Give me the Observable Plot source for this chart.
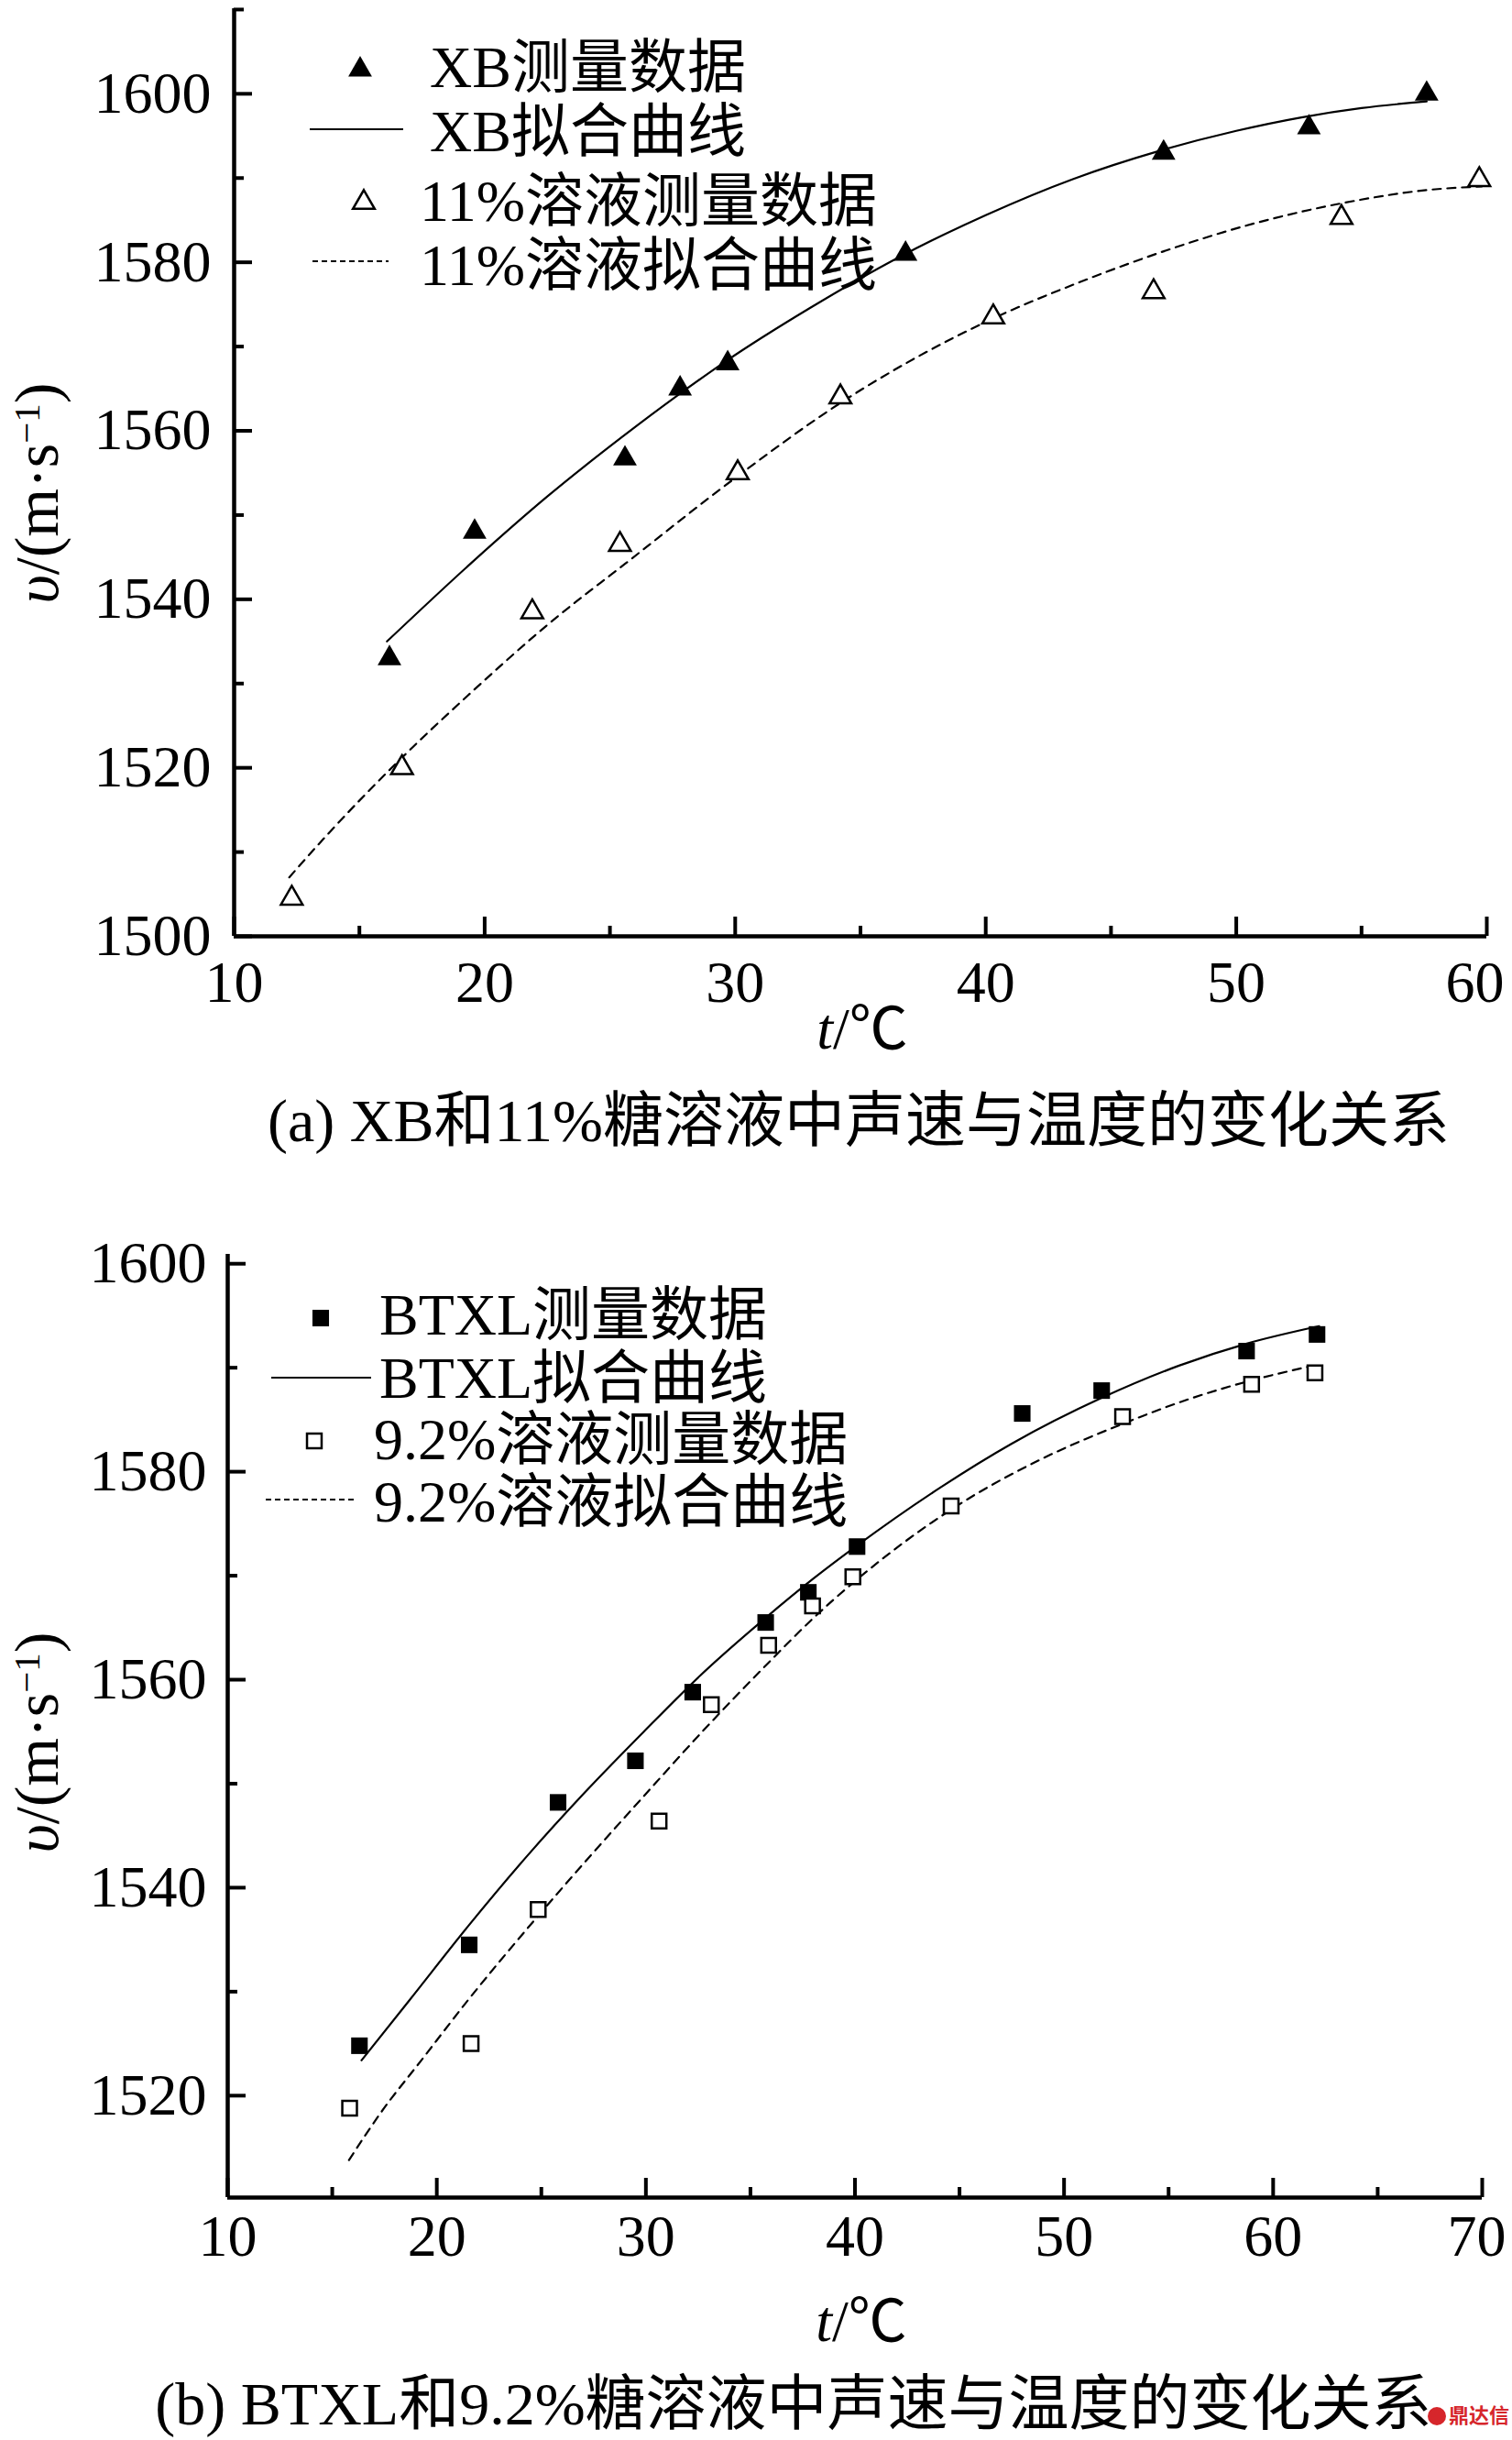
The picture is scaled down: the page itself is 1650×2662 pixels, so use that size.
<!DOCTYPE html>
<html>
<head>
<meta charset="utf-8">
<script src="https://cdn.jsdelivr.net/npm/d3@7"></script>
<script src="https://cdn.jsdelivr.net/npm/@observablehq/plot@0.6"></script>
<style>
  html, body { margin: 0; padding: 0; background: #fff; }
  #page { position: relative; width: 1650px; height: 2662px; overflow: hidden; background: #fff;
          font-family: "Liberation Serif", "Noto Sans CJK SC", serif; color: #000; }
  .abs { position: absolute; white-space: nowrap; line-height: 1; }
  .panel { position: absolute; left: 0; }
  .ylab { font-size: 68px; transform: translate(-50%, -50%) rotate(-90deg); }
  .ylab sup { font-size: 0.6em; vertical-align: 0.5em; line-height: 0; }
  .xlab { font-size: 64px; transform: translateX(-50%); }
  .cap { font-size: 66px; transform: translateX(-50%); }
  .leg { font-size: 64px; }
</style>
</head>
<body>
<div id="page"></div>
<script>
// ---------------- Data ----------------
// Panel (a): XB and 11% sugar solution
const xbT   = [16.2, 19.6, 25.6, 27.8, 29.7, 36.8, 47.1, 52.9, 57.6];
const xbV   = [1533.0, 1548.0, 1556.7, 1565.0, 1568.0, 1581.0, 1593.0, 1596.0, 1600.0];
const s11T  = [12.3, 16.7, 21.9, 25.4, 30.1, 34.2, 40.3, 46.7, 54.2, 59.7];
const s11V  = [1504.5, 1520.0, 1538.5, 1546.5, 1555.0, 1564.0, 1573.5, 1576.5, 1585.3, 1589.8];
const xbFitT  = [16.1, 19.5, 22.5, 25.5, 27.7, 29.6, 33.0, 36.6, 40.0, 43.5, 46.9, 50.0, 52.6, 55.0, 57.6];
const xbFitV  = [1535.0, 1544.4, 1552.2, 1559.3, 1564.2, 1568.2, 1574.6, 1580.7, 1585.6, 1589.9, 1593.2, 1595.6, 1597.2, 1598.3, 1599.1];
const s11FitT = [12.2, 13.7, 16.8, 19.3, 22.6, 25.6, 30.0, 34.3, 40.2, 43.8, 47.4, 50.7, 54.2, 57.7, 59.8];
const s11FitV = [1507.0, 1512.0, 1521.5, 1528.5, 1537.2, 1544.2, 1554.4, 1563.5, 1573.2, 1577.7, 1581.6, 1584.6, 1587.0, 1588.6, 1589.0];

// Panel (b): BTXL and 9.2% sugar solution
const btT   = [16.3, 21.55, 25.8, 29.5, 32.24, 35.73, 37.77, 40.1, 48.0, 51.8, 58.73, 62.1];
const btV   = [1524.8, 1534.5, 1548.2, 1552.2, 1558.8, 1565.5, 1568.4, 1572.8, 1585.6, 1587.8, 1591.6, 1593.2];
const s92T  = [15.83, 21.64, 24.85, 30.63, 33.13, 35.87, 37.97, 39.9, 44.6, 52.8, 58.97, 62.0];
const s92V  = [1518.8, 1525.0, 1537.9, 1546.4, 1557.6, 1563.3, 1567.1, 1569.9, 1576.7, 1585.3, 1588.4, 1589.5];
const btFitT  = [16.4, 18.7, 21.5, 24.3, 27.1, 29.9, 32.6, 35.7, 38.0, 40.1, 44.1, 47.5, 51.8, 55.5, 58.7, 62.2];
const btFitV  = [1523.4, 1529.2, 1536.3, 1543.0, 1549.2, 1555.0, 1560.4, 1565.9, 1569.7, 1572.9, 1578.5, 1582.7, 1587.1, 1590.2, 1592.3, 1594.0];
const s92FitT = [15.8, 17.3, 19.3, 21.5, 24.3, 27.1, 29.9, 32.65, 35.8, 38.0, 41.3, 45.1, 48.9, 52.8, 56.0, 59.0, 61.7];
const s92FitV = [1513.8, 1518.3, 1523.5, 1529.2, 1536.0, 1542.5, 1548.8, 1554.9, 1561.5, 1565.9, 1571.6, 1577.0, 1581.2, 1584.6, 1587.0, 1588.8, 1590.1];

// Axes / ticks
const aXDomain = [10, 60];
const aYDomain = [1500, 1610.1];
const aXMajor = [10, 20, 30, 40, 50, 60];
const aXMinor = [15, 25, 35, 45, 55];
const aYMajor = [1500, 1520, 1540, 1560, 1580, 1600];
const aYMinor = [1510, 1530, 1550, 1570, 1590, 1610];

const bXDomain = [10, 70];
const bYDomain = [1510.2, 1600.9];
const bXMajor = [10, 20, 30, 40, 50, 60, 70];
const bXMinor = [15, 25, 35, 45, 55, 65];
const bYMajor = [1520, 1540, 1560, 1580, 1600];
const bYMinor = [1530, 1550, 1570, 1590];

// Texts
const aLegend = ["XB测量数据", "XB拟合曲线", "11%溶液测量数据", "11%溶液拟合曲线"];
const bLegend = ["BTXL测量数据", "BTXL拟合曲线", "9.2%溶液测量数据", "9.2%溶液拟合曲线"];
const aCaption = "(a) XB和11%糖溶液中声速与温度的变化关系";
const bCaption = "(b) BTXL和9.2%糖溶液中声速与温度的变化关系";
const watermark = "鼎达信";

// ---------------- Drawing ----------------
const zip = (T, V) => T.map((t, i) => ({t, v: V[i]}));
const page = document.getElementById("page");
const fmt = d3.format("d");

function makePanel(c) {
  const tickOnly = () => "";
  return Plot.plot({
    width: 1650, height: c.height,
    marginTop: c.mt, marginBottom: c.mb, marginLeft: c.ml, marginRight: c.mr,
    x: {domain: c.xDomain},
    y: {domain: c.yDomain},
    style: {background: "transparent", fontFamily: '"Liberation Serif", serif', fontSize: "64px", color: "#000", overflow: "visible"},
    marks: [
      Plot.ruleX([c.xDomain[0]], {strokeWidth: 4.5}),
      Plot.ruleY([c.yDomain[0]], {strokeWidth: 4.5}),
      Plot.axisX({ticks: c.xMajor, tickSize: -21, strokeWidth: 4, tickFormat: tickOnly, label: null}),
      Plot.axisX({ticks: c.xMinor, tickSize: -11, strokeWidth: 4, tickFormat: tickOnly, label: null}),
      Plot.axisX({ticks: c.xMajor.slice(0, -1), tickSize: 0, tickPadding: c.xPad, tickFormat: fmt, fontSize: 64, label: null}),
      Plot.axisX({ticks: c.xMajor.slice(-1), tickSize: 0, tickPadding: c.xPad, tickFormat: fmt, fontSize: 64, label: null, dx: c.lastDx}),
      Plot.axisY({ticks: c.yMajor, tickSize: -20, strokeWidth: 4, tickFormat: tickOnly, label: null}),
      Plot.axisY({ticks: c.yMinor, tickSize: -11, strokeWidth: 4, tickFormat: tickOnly, label: null}),
      Plot.axisY({ticks: c.yMajor, tickSize: 0, tickPadding: c.yPad, tickFormat: fmt, fontSize: 64, label: null}),
      Plot.line(c.fitSolid, {x: "t", y: "v", curve: "monotone-x", stroke: "#000", strokeWidth: 2.2}),
      Plot.line(c.fitDash, {x: "t", y: "v", curve: "monotone-x", stroke: "#000", strokeWidth: 2.2, strokeDasharray: "9,7"}),
      Plot.dot(c.filled, {x: "t", y: "v", symbol: c.symbol, r: c.r, fill: "#000", stroke: "none"}),
      Plot.dot(c.open, {x: "t", y: "v", symbol: c.symbol, r: c.rOpen, fill: "#fff", stroke: "#000", strokeWidth: 2.5})
    ]
  });
}

const svgA = makePanel({
  height: 1100, mt: 9, mb: 79, ml: 255, mr: 28,
  xDomain: aXDomain, yDomain: aYDomain,
  xMajor: aXMajor, xMinor: aXMinor, yMajor: aYMajor, yMinor: aYMinor,
  xPad: 26, yPad: 25, lastDx: -13,
  fitSolid: zip(xbFitT, xbFitV), fitDash: zip(s11FitT, s11FitV),
  filled: zip(xbT, xbV), open: zip(s11T, s11V),
  symbol: "triangle", r: 9.6, rOpen: 8.8
});
svgA.classList.add("panel"); svgA.style.top = "0px";
page.appendChild(svgA);

const svgB = makePanel({
  height: 1160, mt: 68, mb: 63, ml: 248, mr: 33,
  xDomain: bXDomain, yDomain: bYDomain,
  xMajor: bXMajor, xMinor: bXMinor, yMajor: bYMajor, yMinor: bYMinor,
  xPad: 18, yPad: 23, lastDx: -6,
  fitSolid: zip(btFitT, btFitV), fitDash: zip(s92FitT, s92FitV),
  filled: zip(btT, btV), open: zip(s92T, s92V),
  symbol: "square", r: 10.2, rOpen: 9.0
});
svgB.classList.add("panel"); svgB.style.top = "1300px";
page.appendChild(svgB);

// ---- HTML texts ----
function addDiv(cls, html, left, top, extra) {
  const d = document.createElement("div");
  d.className = "abs " + cls;
  d.innerHTML = html;
  d.style.left = left + "px";
  d.style.top = top + "px";
  if (extra) Object.assign(d.style, extra);
  page.appendChild(d);
  return d;
}
const esc = s => s.replace(/&/g, "&amp;").replace(/</g, "&lt;");

// axis titles
addDiv("ylab", "<i>υ</i>/(m·s<sup>−1</sup>)", 40, 538);
addDiv("ylab", "<i>υ</i>/(m·s<sup>−1</sup>)", 40, 1901);
addDiv("xlab", "<i>t</i>/℃", 941, 1091);
addDiv("xlab", "<i>t</i>/℃", 940, 2501);

// captions
addDiv("cap", esc(aCaption), 937, 1190);
addDiv("cap", esc(bCaption), 866, 2590);

// legend texts
const aLegPos = [[469, 73], [469, 143], [458, 219], [458, 289]];
const bLegPos = [[414, 1434], [414, 1503], [408, 1570], [408, 1638]];
aLegend.forEach((s, i) => addDiv("leg", esc(s), aLegPos[i][0], aLegPos[i][1] - 31));
bLegend.forEach((s, i) => addDiv("leg", esc(s), bLegPos[i][0], bLegPos[i][1] - 31));

// legend symbols (overlay svg)
const ov = d3.select(page).append("svg")
  .attr("width", 1650).attr("height", 2662)
  .style("position", "absolute").style("left", 0).style("top", 0).style("pointer-events", "none");
const tri = d3.symbol(d3.symbolTriangle, Math.PI * 9.6 * 9.6)();
const triO = d3.symbol(d3.symbolTriangle, Math.PI * 8.8 * 8.8)();
const sq = d3.symbol(d3.symbolSquare, Math.PI * 10.2 * 10.2)();
const sqO = d3.symbol(d3.symbolSquare, Math.PI * 9.0 * 9.0)();
ov.append("path").attr("d", tri).attr("transform", "translate(393,76)").attr("fill", "#000");
ov.append("line").attr("x1", 338).attr("x2", 440).attr("y1", 141).attr("y2", 141).attr("stroke", "#000").attr("stroke-width", 2.2);
ov.append("path").attr("d", triO).attr("transform", "translate(397,221)").attr("fill", "#fff").attr("stroke", "#000").attr("stroke-width", 2.5);
ov.append("line").attr("x1", 341).attr("x2", 424).attr("y1", 285).attr("y2", 285).attr("stroke", "#000").attr("stroke-width", 2.2).attr("stroke-dasharray", "6,4");

ov.append("path").attr("d", sq).attr("transform", "translate(350,1438)").attr("fill", "#000");
ov.append("line").attr("x1", 296).attr("x2", 405).attr("y1", 1503).attr("y2", 1503).attr("stroke", "#000").attr("stroke-width", 2.2);
ov.append("path").attr("d", sqO).attr("transform", "translate(343,1572)").attr("fill", "#fff").attr("stroke", "#000").attr("stroke-width", 2.5);
ov.append("line").attr("x1", 290).attr("x2", 389).attr("y1", 1636).attr("y2", 1636).attr("stroke", "#000").attr("stroke-width", 2.2).attr("stroke-dasharray", "6,4");

// watermark
addDiv("", '<span style="display:inline-block;width:20px;height:20px;border-radius:50%;background:#d6262b;vertical-align:-3px;margin-right:3px"></span>' + watermark,
  1558, 2622, {color: "#d6262b", fontWeight: "700", fontSize: "22px", fontFamily: '"Noto Sans CJK SC", sans-serif'});
</script>
</body>
</html>
